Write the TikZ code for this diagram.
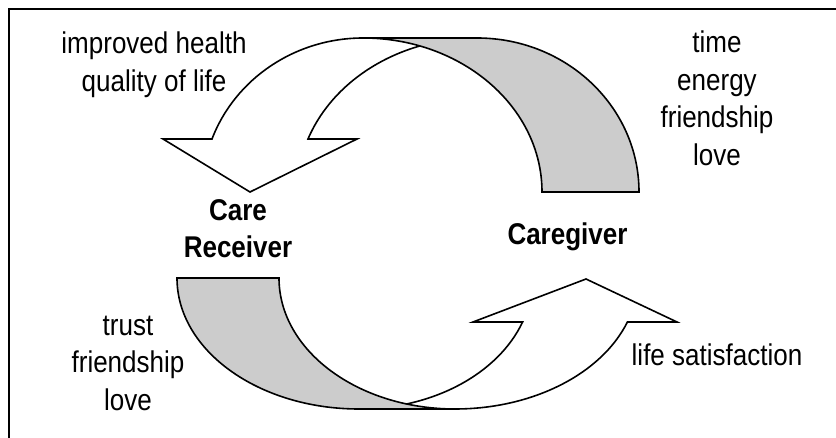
\documentclass[tikz,border=0pt]{standalone}
\usepackage{fontspec}
\newfontfamily\labfont{Liberation Sans}[FakeStretch=0.867]
\definecolor{ribbon}{RGB}{204,204,204}
\begin{document}
\begin{tikzpicture}[x=1pt,y=1pt,
  outline/.style={draw=black,line width=1.6pt,line join=miter},
  backside/.style={outline,fill=ribbon},
  frontside/.style={outline,fill=white},
  lbl/.style={font=\labfont\fontsize{30}{37.5}\selectfont,align=center,anchor=base,inner sep=0pt},
  who/.style={lbl,font=\labfont\bfseries\fontsize{30}{37.5}\selectfont}]
\useasboundingbox (0,0) rectangle (836,-438);

% frame (top and left edges)
\draw[line width=2pt,line join=miter] (845,-9) -- (9,-9) -- (9,-450);

% upper ribbon: white arrow towards the care receiver, grey back drawn over it
\draw[frontside] (212,-139) arc[start angle=159.87,end angle=90,x radius=161,y radius=154]
  -- (477,-38) arc[start angle=90,end angle=159.87,x radius=180,y radius=154]
  -- (357,-139) -- (250,-192) -- (163,-139) -- cycle;
\draw[backside] (639,-192) arc[start angle=0,end angle=90,x radius=162,y radius=154]
  -- (363,-38) arc[start angle=90,end angle=0,x radius=179,y radius=154] -- cycle;

% lower ribbon: white arrow towards the caregiver, grey back drawn over it
\draw[frontside] (627.4,-322) arc[start angle=-19.63,end angle=-90,x radius=183,y radius=131]
  -- (359,-409) arc[start angle=-90,end angle=-19.63,x radius=173.7,y radius=131]
  -- (473,-322) -- (586,-279) -- (677,-322) -- cycle;
\draw[backside] (177,-278) arc[start angle=180,end angle=270,x radius=182,y radius=131]
  -- (455,-409) arc[start angle=270,end angle=180,x radius=176,y radius=131] -- cycle;

% labels (a multi-line node sits on the baseline of its last line)
\node[lbl] (gain) at (154,-91.5) {improved health\\quality of life};
\node[lbl] (give) at (717,-165.5) {time\\energy\\friendship\\love};
\node[lbl] (trustlbl) at (128,-410) {trust\\friendship\\love};
\node[lbl] (satisf) at (717,-366) {life satisfaction};
\node[who] (receiver) at (238,-258) {Care\\Receiver};
\node[who] (caregiver) at (567.5,-245) {Caregiver};
\end{tikzpicture}
\end{document}
